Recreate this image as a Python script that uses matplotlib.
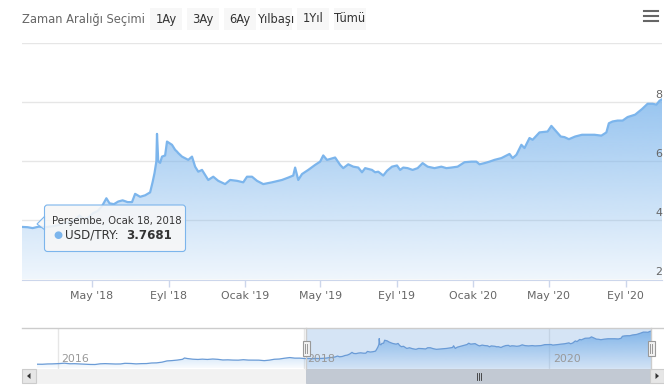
import numpy as np
import pandas as pd
import matplotlib
matplotlib.use("Agg")
import matplotlib.pyplot as plt
import matplotlib.dates as mdates
import matplotlib.colors as mcolors
from matplotlib.patches import FancyBboxPatch, Rectangle, Polygon
from matplotlib.transforms import Affine2D, blended_transform_factory

plt.rcParams["font.family"] = ["DejaVu Sans"]

# USD/TRY, values
main_dates = [
    "2018-01-09", "2018-01-18", "2018-01-26", "2018-02-05", "2018-02-15", "2018-02-26", "2018-03-08",
    "2018-03-19", "2018-03-28", "2018-04-05", "2018-04-11", "2018-04-17", "2018-04-25",
    "2018-05-03", "2018-05-10", "2018-05-17", "2018-05-24", "2018-05-29", "2018-06-05", "2018-06-12",
    "2018-06-19", "2018-06-27", "2018-07-04", "2018-07-09", "2018-07-17", "2018-07-25",
    "2018-08-02", "2018-08-06", "2018-08-09", "2018-08-12", "2018-08-13", "2018-08-15", "2018-08-18",
    "2018-08-21", "2018-08-26", "2018-08-29", "2018-09-03", "2018-09-06", "2018-09-11", "2018-09-14",
    "2018-09-16", "2018-09-22",
    "2018-10-02", "2018-10-08", "2018-10-13", "2018-10-18", "2018-10-24", "2018-10-29", "2018-11-03",
    "2018-11-11", "2018-11-19", "2018-11-30", "2018-12-08", "2018-12-19", "2018-12-29",
    "2019-01-04", "2019-01-12", "2019-01-20", "2019-01-30", "2019-02-13", "2019-03-01", "2019-03-11",
    "2019-03-19", "2019-03-22", "2019-03-27", "2019-04-02", "2019-04-12", "2019-04-23", "2019-05-01",
    "2019-05-06", "2019-05-12", "2019-05-22", "2019-05-25",
    "2019-06-02", "2019-06-07", "2019-06-15", "2019-06-23", "2019-07-01", "2019-07-07", "2019-07-12",
    "2019-07-23", "2019-07-28", "2019-08-02", "2019-08-10", "2019-08-16", "2019-08-24", "2019-09-01",
    "2019-09-06", "2019-09-11", "2019-09-18", "2019-09-26",
    "2019-10-04", "2019-10-12", "2019-10-20", "2019-10-31", "2019-11-11", "2019-11-19", "2019-11-27",
    "2019-12-07", "2019-12-18", "2019-12-29", "2020-01-06", "2020-01-11", "2020-01-19", "2020-01-27",
    "2020-02-04", "2020-02-15", "2020-02-28",
    "2020-03-04", "2020-03-10", "2020-03-18", "2020-03-23", "2020-03-31", "2020-04-05", "2020-04-16",
    "2020-04-29", "2020-05-05", "2020-05-13", "2020-05-20", "2020-05-26", "2020-06-02", "2020-06-12",
    "2020-06-23", "2020-07-13", "2020-07-24",
    "2020-08-01", "2020-08-05", "2020-08-11", "2020-08-19", "2020-08-27", "2020-09-04", "2020-09-16",
    "2020-09-27", "2020-10-06", "2020-10-14", "2020-10-20", "2020-10-25", "2020-10-29",
]
main_values = [
    3.78, 3.77, 3.74, 3.79, 3.77, 3.80, 3.84,
    3.93, 3.95, 4.05, 4.17, 4.05, 4.10,
    4.25, 4.32, 4.48, 4.75, 4.58, 4.55, 4.64,
    4.68, 4.62, 4.62, 4.90, 4.80, 4.85,
    4.95, 5.30, 5.60, 6.00, 6.93, 6.00, 5.95,
    6.16, 6.20, 6.67, 6.60, 6.56, 6.39, 6.33,
    6.28, 6.16,
    6.05, 6.16, 5.82, 5.65, 5.71, 5.54, 5.37,
    5.48, 5.34, 5.23, 5.37, 5.34, 5.29,
    5.48, 5.48, 5.34, 5.23, 5.29, 5.37, 5.45,
    5.52, 5.79, 5.37, 5.57, 5.71, 5.88, 5.99,
    6.20, 6.05, 6.11, 6.13,
    5.88, 5.77, 5.90, 5.82, 5.79, 5.63, 5.77,
    5.71, 5.63, 5.65, 5.52, 5.68, 5.82, 5.86,
    5.71, 5.79, 5.77, 5.71,
    5.77, 5.94, 5.82, 5.77, 5.82, 5.77, 5.79,
    5.82, 5.97, 5.99, 5.99, 5.90, 5.94, 5.99,
    6.05, 6.11, 6.25,
    6.11, 6.22, 6.56, 6.45, 6.79, 6.73, 6.98,
    7.01, 7.20, 7.01, 6.84, 6.82, 6.75, 6.84,
    6.90, 6.90, 6.87,
    6.98, 7.29, 7.35, 7.38, 7.38, 7.50, 7.58,
    7.77, 7.95, 7.95, 7.92, 8.05, 8.10,
]

# older part, only visible in the navigator
nav_dates = [
    "2015-10-29", "2015-11-15", "2015-12-01", "2015-12-15", "2016-01-05", "2016-01-20", "2016-02-05",
    "2016-02-20", "2016-03-05", "2016-03-20", "2016-04-05", "2016-04-20", "2016-05-05", "2016-05-20",
    "2016-06-05", "2016-06-20", "2016-07-05", "2016-07-18", "2016-08-05", "2016-08-20", "2016-09-05",
    "2016-09-20", "2016-10-05", "2016-10-20", "2016-11-05", "2016-11-20", "2016-12-05", "2016-12-20",
    "2017-01-05", "2017-01-11", "2017-01-20", "2017-02-05", "2017-02-20", "2017-03-05", "2017-03-20",
    "2017-04-05", "2017-04-20", "2017-05-05", "2017-05-20", "2017-06-05", "2017-06-20", "2017-07-05",
    "2017-07-20", "2017-08-05", "2017-08-20", "2017-09-05", "2017-09-20", "2017-10-05", "2017-10-20",
    "2017-11-05", "2017-11-20", "2017-12-05", "2017-12-20", "2018-01-05",
]
nav_values = [
    2.88, 2.87, 2.92, 2.93, 2.98, 3.04, 2.95,
    2.96, 2.92, 2.86, 2.84, 2.83, 2.94, 2.97,
    2.93, 2.91, 2.92, 3.02, 2.99, 2.93, 2.97,
    2.98, 3.07, 3.09, 3.20, 3.40, 3.45, 3.53,
    3.65, 3.86, 3.77, 3.67, 3.63, 3.68, 3.63,
    3.70, 3.65, 3.55, 3.57, 3.53, 3.52, 3.59,
    3.53, 3.53, 3.52, 3.44, 3.52, 3.66, 3.70,
    3.83, 3.93, 3.84, 3.84, 3.77,
]

tick_dates = ["2018-05-01", "2018-09-01", "2019-01-01", "2019-05-01",
              "2019-09-01", "2020-01-01", "2020-05-01", "2020-09-01"]
tick_labels = ["May '18", "Eyl '18", "Ocak '19", "May '19",
               "Eyl '19", "Ocak '20", "May '20", "Eyl '20"]
y_ticks = [2, 4, 6, 8, 10]
nav_years = ["2016-01-01", "2018-01-01", "2020-01-01"]
nav_year_labels = ["2016", "2018", "2020"]
buttons = ["1Ay", "3Ay", "6Ay", "Yılbaşı", "1Yıl", "Tümü"]

LINE = "#7cb5ec"
W, H = 664, 387
fig = plt.figure(figsize=(W / 100, H / 100), dpi=100)
px = Affine2D().scale(1 / W, -1 / H).translate(0, 1) + fig.transFigure


def box(x0, y0, x1, y1):
    return [x0 / W, 1 - y1 / H, (x1 - x0) / W, (y1 - y0) / H]


def gradient_area(ax, x, y, ybot, ytop, a_top, a_bot, z=1):
    poly = ax.fill_between(x, y, ybot, color="none", lw=0)
    img = np.zeros((256, 1, 4))
    img[:, 0, :3] = mcolors.to_rgb(LINE)
    img[:, 0, 3] = np.linspace(a_top, a_bot, 256)
    im = ax.imshow(img, aspect="auto", origin="upper", zorder=z,
                   extent=[x[0], x[-1], ybot, ytop], interpolation="bilinear")
    im.set_clip_path(poly.get_paths()[0], transform=ax.transData)


md = mdates.date2num(pd.to_datetime(main_dates))
mv = np.array(main_values)

# ---- main chart
ax = fig.add_axes(box(22, 43.2, 662, 279.5))
gradient_area(ax, md, mv, 2, 10, 1.0, 0.12)
ax.plot(md, mv, color=LINE, lw=1.6, zorder=3, solid_joinstyle="round")
ax.set_xlim(md[0], md[-1])
ax.set_ylim(2, 10)
ax.set_yticks(y_ticks)
ax.set_yticklabels([])
ax.tick_params(axis="y", length=0)
ax.grid(axis="y", color="#e6e6e6", lw=1)
ax.set_axisbelow(True)
ax.set_xticks(mdates.date2num(pd.to_datetime(tick_dates)))
ax.set_xticklabels(tick_labels, fontsize=7.9, color="#666666")
ax.tick_params(axis="x", length=5, width=1, color="#ccd6eb", pad=3)
for s in ["top", "left", "right"]:
    ax.spines[s].set_visible(False)
ax.spines["bottom"].set_color("#ccd6eb")
tr = blended_transform_factory(ax.transAxes, ax.transData)
for v in y_ticks[:-1]:
    ax.annotate(str(v), (1, v), xycoords=tr, xytext=(0, 1.5), textcoords="offset points",
                ha="right", va="bottom", fontsize=7.9, color="#666666")

# ---- range selector
fig.text(22 / W, 1 - 19 / H, "Zaman Aralığı Seçimi", fontsize=8.3, color="#666666", va="center")
for i, b in enumerate(buttons):
    x0 = 150 + i * 36.8
    fig.patches.append(Rectangle((x0, 8), 32, 22, transform=px, facecolor="#f7f7f7", edgecolor="none"))
    fig.text((x0 + 16) / W, 1 - 19 / H, b, fontsize=8.3, color="#333333", ha="center", va="center")
for yy in (11, 16, 21):
    fig.lines.append(plt.Line2D([644, 658], [yy, yy], transform=px, color="#666666", lw=1.5))

# ---- tooltip
fig.patches.append(Polygon([(45, 216), (37, 224), (45, 230)], closed=True, transform=px,
                           facecolor=(0.97, 0.97, 0.97, 0.85), edgecolor=LINE, lw=0.8, zorder=5))
fig.patches.append(FancyBboxPatch((44.5, 205), 141, 46.5, boxstyle="round,pad=0,rounding_size=3",
                                  transform=px, facecolor=(0.97, 0.97, 0.97, 0.88),
                                  edgecolor=LINE, lw=0.8, zorder=6))
fig.text(52.5 / W, 1 - 221 / H, "Perşembe, Ocak 18, 2018", fontsize=7.3, color="#333333",
         va="center", zorder=7)
fig.text(53.5 / W, 1 - 235 / H, "●", fontsize=7.5, color=LINE, va="center", zorder=7)
fig.text(65.5 / W, 1 - 235 / H, "USD/TRY:", fontsize=8.6, color="#333333", va="center", zorder=7)
fig.text(126 / W, 1 - 235 / H, "3.7681", fontsize=8.6, color="#333333", va="center",
         fontweight="bold", zorder=7)

# ---- navigator
nd = mdates.date2num(pd.to_datetime(nav_dates + main_dates))
nv = np.array(nav_values + main_values)
nav = fig.add_axes(box(36.5, 328, 651, 368.5))
gradient_area(nav, nd, nv, 2.2, 8.6, 1.0, 0.05)
nav.plot(nd, nv, color="#6a9bd6", lw=0.9, zorder=3)
nav.set_xlim(nd[0], nd[-1])
nav.set_ylim(2.2, 8.6)
nav.set_xticks(mdates.date2num(pd.to_datetime(nav_years)))
nav.set_xticklabels([])
nav.set_yticks([])
nav.tick_params(axis="x", length=0)
nav.grid(axis="x", color="#e6e6e6", lw=1)
nav.set_axisbelow(True)
for s in nav.spines.values():
    s.set_visible(False)
for d, lab in zip(nav_years, nav_year_labels):
    nav.annotate(lab, (mdates.date2num(pd.Timestamp(d)), 0), xycoords=("data", "axes fraction"),
                 xytext=(2.5, 3), textcoords="offset points", fontsize=7.9, color="#999999",
                 ha="left", va="bottom")
nav.axvspan(md[0], md[-1], color=(118 / 255, 168 / 255, 225 / 255, 0.3), lw=0, zorder=2)

# outline and handles
fig.lines.append(plt.Line2D([22, 664], [328, 328], transform=px, color="#cccccc", lw=1))
for xh in (306, 651):
    fig.lines.append(plt.Line2D([xh, xh], [328, 368.5], transform=px, color="#cccccc", lw=1))
    fig.patches.append(Rectangle((xh - 3.5, 341), 7, 15, transform=px, facecolor="#f2f2f2",
                                 edgecolor="#999999", lw=0.8, zorder=8))
    for dx in (-1, 1):
        fig.lines.append(plt.Line2D([xh + dx, xh + dx], [344, 353], transform=px,
                                    color="#999999", lw=0.7, zorder=9))

# scrollbar
fig.patches.append(Rectangle((22, 369), 642, 14, transform=px, facecolor="#f2f2f2",
                             edgecolor="#f2f2f2", lw=0.5))
fig.patches.append(Rectangle((306, 369), 345, 14, transform=px, facecolor="#c2c9d3",
                             edgecolor="#b8bfca", lw=0.5))
for xb in (22, 650):
    fig.patches.append(Rectangle((xb, 369), 14, 14, transform=px, facecolor="#e6e6e6",
                                 edgecolor="#cccccc", lw=0.8))
fig.patches.append(Polygon([(30.5, 373), (27, 376), (30.5, 379)], transform=px, facecolor="#333333"))
fig.patches.append(Polygon([(655.5, 373), (659, 376), (655.5, 379)], transform=px, facecolor="#333333"))
for dx in (-2, 0, 2):
    fig.lines.append(plt.Line2D([478.5 + dx, 478.5 + dx], [372.5, 379.5], transform=px,
                                color="#333333", lw=0.6))

fig.savefig("out.png", dpi=100)
